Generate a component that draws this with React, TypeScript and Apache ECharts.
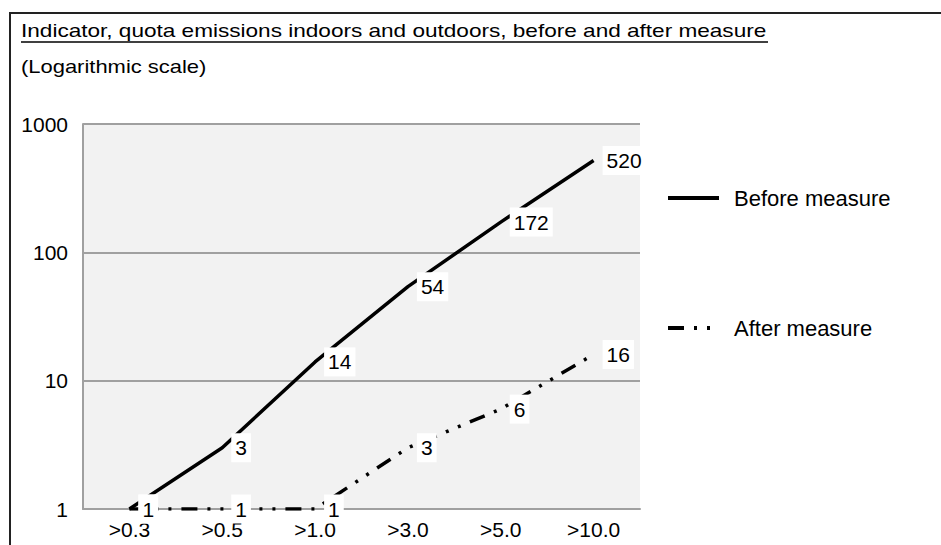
import React, { useEffect, useRef } from "react";
import * as echarts from "echarts";

const categories = [">0.3", ">0.5", ">1.0", ">3.0", ">5.0", ">10.0"];
const beforeValues = [1, 3, 14, 54, 172, 520];
const afterValues = [1, 1, 1, 3, 6, 16];
const seriesNames = ["Before measure", "After measure"];
const titleText = "Indicator, quota emissions indoors and outdoors, before and after measure";
const subtitleText = "(Logarithmic scale)";

const FONT = "'Liberation Sans', Arial, sans-serif";

export default function App() {
  const ref = useRef<HTMLDivElement>(null);
  useEffect(() => {
    if (!ref.current) return;
    const chart = echarts.init(ref.current, undefined, { renderer: "svg" });
    const labelCfg = {
      show: true,
      position: "right",
      distance: 8,
      backgroundColor: "#ffffff",
      padding: [4, 4],
      color: "#000",
      fontSize: 21,
      fontFamily: FONT,
    };
    chart.setOption({
      animation: false,
      backgroundColor: "#ffffff",
      textStyle: { fontFamily: FONT },
      graphic: [
        {
          type: "rect",
          shape: { x: 10, y: 13, width: 940, height: 540 },
          style: { fill: "none", stroke: "#222", lineWidth: 2 },
          silent: true,
        },
        {
          type: "text",
          x: 21,
          y: 31,
          scaleX: 1.255,
          style: {
            text: titleText,
            font: "18px " + FONT,
            fill: "#000",
            verticalAlign: "middle",
          },
        },
        {
          type: "line",
          shape: { x1: 21, y1: 42, x2: 768, y2: 42 },
          style: { stroke: "#000", lineWidth: 1.5 },
        },
        {
          type: "text",
          x: 21,
          y: 67,
          scaleX: 1.22,
          style: {
            text: subtitleText,
            font: "18px " + FONT,
            fill: "#000",
            verticalAlign: "middle",
          },
        },
      ],
      legend: {
        orient: "vertical",
        left: 661,
        top: 181,
        itemWidth: 51,
        itemHeight: 14,
        itemGap: 106,
        data: seriesNames,
        lineStyle: { width: 4 },
        textStyle: { fontSize: 22, color: "#000", fontFamily: FONT, lineHeight: 24, padding: [0, 0, 0, 10] },
      },
      grid: {
        left: 83,
        top: 124,
        right: 301,
        bottom: 36,
        show: true,
        backgroundColor: "#f2f2f2",
        borderWidth: 0,
      },
      xAxis: {
        type: "category",
        data: categories,
        boundaryGap: true,
        axisLine: { show: true, lineStyle: { color: "#a0a0a0", width: 2 } },
        axisTick: { show: false },
        axisLabel: { color: "#000", fontSize: 21, margin: 10, fontFamily: FONT },
        splitLine: { show: false },
      },
      yAxis: {
        type: "log",
        logBase: 10,
        min: 1,
        max: 1000,
        axisLine: { show: true, lineStyle: { color: "#a0a0a0", width: 2 } },
        axisTick: { show: false },
        axisLabel: {
          color: "#000",
          fontSize: 21,
          margin: 15,
          fontFamily: FONT,
          formatter: (v: number) => String(Math.round(v)),
        },
        splitLine: { show: true, lineStyle: { color: "#a0a0a0", width: 2 } },
        minorTick: { show: false },
      },
      series: [
        {
          name: seriesNames[0],
          type: "line",
          data: beforeValues,
          symbol: "circle",
          symbolSize: 2,
          showSymbol: true,
          itemStyle: { color: "transparent", borderWidth: 0 },
          lineStyle: { color: "#000", width: 3.5, type: "solid" },
          label: labelCfg,
          z: 3,
        },
        {
          name: seriesNames[1],
          type: "line",
          data: afterValues,
          symbol: "circle",
          symbolSize: 2,
          showSymbol: true,
          itemStyle: { color: "transparent", borderWidth: 0 },
          lineStyle: { color: "#000", width: 3.5, type: [16, 10, 3, 10, 3, 10], cap: "butt" },
          label: labelCfg,
          z: 3,
        },
      ],
    });
    return () => chart.dispose();
  }, []);
  return <div ref={ref} style={{ width: 941, height: 545, position: "absolute", left: 0, top: 0 }} />;
}
